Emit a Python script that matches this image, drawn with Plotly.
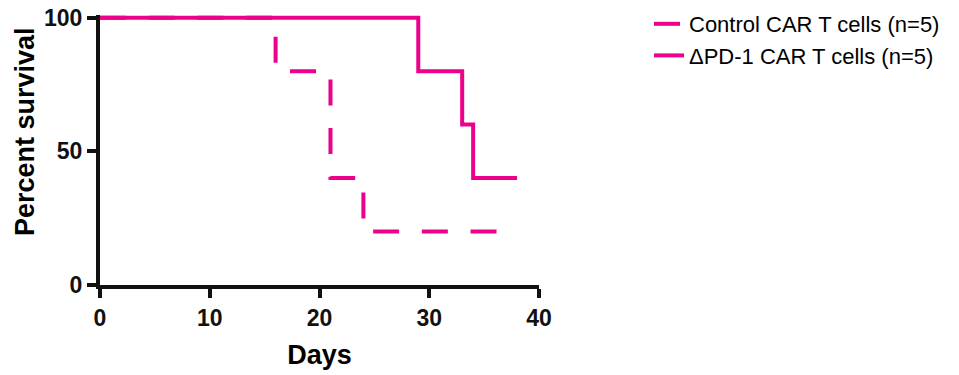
import plotly.graph_objects as go

# Data (Kaplan-Meier step curves)
control_days = [0, 16, 21, 24, 37]
control_surv = [100, 80, 40, 20, 20]
pd1_days = [0, 29, 33, 34, 38]
pd1_surv = [100, 80, 60, 40, 40]

x_ticks = [0, 10, 20, 30, 40]
y_ticks = [0, 50, 100]

PINK = "#EC008C"
FONT = "Arial, Liberation Sans, sans-serif"

W, H = 959, 375
L, R, T, B = 100, 420, 15, 90
PW, PH = W - L - R, H - T - B

fig = go.Figure()
fig.add_trace(go.Scatter(
    x=control_days, y=control_surv, mode="lines", line_shape="hv",
    name="Control CAR T cells (n=5)",
    line=dict(color=PINK, width=4, dash="26px,22.7px"),
))
fig.add_trace(go.Scatter(
    x=pd1_days, y=pd1_surv, mode="lines", line_shape="hv",
    name="ΔPD-1 CAR T cells (n=5)",
    line=dict(color=PINK, width=4),
))

fig.update_layout(
    width=W, height=H,
    margin=dict(l=L, r=R, t=T, b=B, autoexpand=False),
    plot_bgcolor="white", paper_bgcolor="white",
    font=dict(family=FONT, color="black"),
    showlegend=True,
    legend=dict(
        xref="paper", yref="paper",
        x=(649 - L) / PW, y=1 + 12 / PH, xanchor="left", yanchor="top",
        font=dict(size=22, color="black", family=FONT),
        bgcolor="rgba(0,0,0,0)", tracegroupgap=0,
    ),
    xaxis=dict(
        range=[0, 40], tickvals=x_ticks, showline=True, linecolor="#111111",
        linewidth=4, ticks="outside", ticklen=9, tickwidth=4, tickcolor="#111111",
        showgrid=False, zeroline=False, ticklabeloverflow="allow",
        tickfont=dict(size=23, family=FONT, weight="bold", color="#111111"),
        title=dict(text="Days", font=dict(size=27, family=FONT, weight="bold", color="black"), standoff=17),
    ),
    yaxis=dict(
        range=[0, 101], tickvals=y_ticks, showline=True, linecolor="#111111",
        linewidth=4, ticks="outside", ticklen=9, tickwidth=4, tickcolor="#111111",
        showgrid=False, zeroline=False, ticklabeloverflow="allow",
        tickfont=dict(size=23, family=FONT, weight="bold", color="#111111"),
    ),
    annotations=[dict(
        text="Percent survival", xref="paper", yref="paper",
        x=(25 - L) / PW, y=(T + PH - 132) / PH, xanchor="center", yanchor="middle",
        textangle=-90, showarrow=False,
        font=dict(size=27, family=FONT, weight="bold", color="black"),
    )],
)

# remove the default 8px page margin so the figure fills the window exactly
fig.write_html(
    "out.html",
    config={"displayModeBar": False},
    post_script="document.body.style.margin='0';",
)
